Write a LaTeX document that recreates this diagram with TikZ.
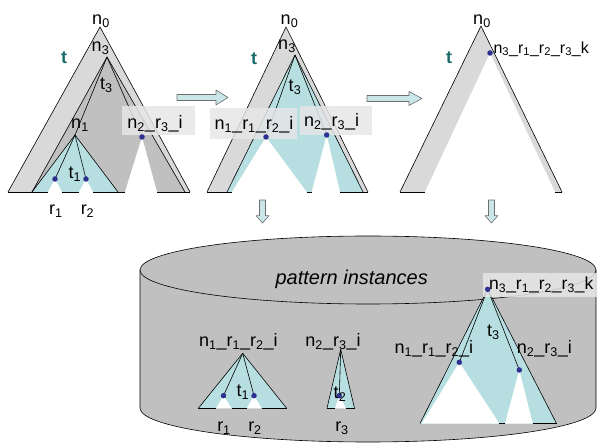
\documentclass[tikz,border=0pt]{standalone}
\usepackage{fontspec}
\setmainfont{Liberation Sans}
\definecolor{lgray}{HTML}{D9D9D9}
\definecolor{mgray}{HTML}{C0C0C0}
\definecolor{cyanf}{HTML}{B7DFE1}
\definecolor{dotc}{HTML}{2E3192}
\definecolor{tealt}{HTML}{1B6B6B}
\definecolor{boxc}{HTML}{E6E6E6}
\definecolor{arrf}{HTML}{C9E7E9}
\definecolor{arrd}{HTML}{6E6E6E}
\begin{document}
\begin{tikzpicture}[x=1pt,y=-1pt,line join=round,
  edge/.style={draw=black,line width=0.6pt},
  lbl/.style={font=\fontsize{18}{20}\selectfont,inner sep=0pt,anchor=base},
  tlbl/.style={font=\fontsize{18}{20}\selectfont\bfseries,text=tealt,inner sep=0pt,anchor=base},
  lblbox/.style={fill=boxc,fill opacity=0.85,draw=none},
  dotn/.style={circle,fill=dotc,inner sep=0pt,minimum size=5.5pt},
  arrowshape/.style={fill=arrf,draw=arrd,line width=0.6pt}]
\useasboundingbox (0,0) rectangle (597,443);

% ================= Tree 1 =================
\coordinate (a1) at (100,27);
\coordinate (t1n3) at (107,57);
\coordinate (t1n1) at (75,135);
\coordinate (t1r1) at (55,179);
\coordinate (t1r2) at (86,179);
\coordinate (t1n2) at (142,137);
\fill[lgray] (a1) -- (8,192) -- (190,192) -- cycle;
\fill[mgray] (t1n3) -- (32,192) -- (185,192) -- cycle;
\fill[cyanf] (t1n1) -- (32,192) -- (118,192) -- cycle;
\fill[white] (t1r1) -- (48,192) -- (62,192) -- cycle;
\fill[white] (t1r2) -- (79,192) -- (93,192) -- cycle;
\fill[white] (t1n2) -- (125,192) -- (157,192) -- cycle;
\draw[edge] (8,192) -- (a1) -- (190,192);
\draw[edge] (32,192) -- (t1n3) -- (185,192);
\draw[edge] (32,192) -- (t1n1) -- (118,192);
\draw[edge] (8,192) -- (48,192) (62,192) -- (79,192) (93,192) -- (125,192) (157,192) -- (190,192);
\draw[edge] (t1n3) -- (t1n1);
\draw[edge] (t1n1) -- (t1r1);
\draw[edge] (t1n1) -- (t1r2);
\draw[edge] (t1n3) -- (t1n2);
\fill[lblbox] (121.7,106) rectangle (195,135);
\node[dotn] (d1r1) at (t1r1) {};
\node[dotn] (d1r2) at (t1r2) {};
\node[dotn] (d1n2) at (t1n2) {};
\node[lbl] (l1n0) at (101,25) {n\textsubscript{0}};
\node[lbl] (l1n3) at (100.5,51.7) {n\textsubscript{3}};
\node[tlbl] (l1t) at (64,63.3) {t};
\node[lbl] (l1t3) at (106.3,90) {t\textsubscript{3}};
\node[lbl] (l1n1) at (80,128.3) {n\textsubscript{1}};
\node[lbl] (l1t1) at (75,178.3) {t\textsubscript{1}};
\node[lbl] (l1r1) at (56,215) {r\textsubscript{1}};
\node[lbl] (l1r2) at (87.5,215) {r\textsubscript{2}};
\node[lbl] (l1n2) at (155,128.3) {n\textsubscript{2}\_r\textsubscript{3}\_i};

% ================= Tree 2 =================
\coordinate (a2) at (286,27);
\coordinate (t2n3) at (295,55);
\coordinate (t2n1) at (266,137);
\coordinate (t2n2) at (326.7,135);
\fill[lgray] (a2) -- (207,192) -- (368,192) -- cycle;
\fill[cyanf] (t2n3) -- (227,192) -- (363,192) -- cycle;
\fill[white] (t2n1) -- (232,192) -- (306.7,192) -- cycle;
\fill[white] (t2n2) -- (311.7,192) -- (340,192) -- cycle;
\draw[edge] (207,192) -- (a2) -- (368,192);
\draw[edge] (227,192) -- (t2n3) -- (363,192);
\draw[edge] (207,192) -- (232,192) (306.7,192) -- (311.7,192) (340,192) -- (368,192);
\draw[edge] (t2n3) -- (t2n1);
\draw[edge] (t2n3) -- (t2n2);
\fill[lblbox] (210,108.3) rectangle (296.7,139.3);
\fill[lblbox] (300,106) rectangle (372.3,135);
\node[dotn] (d2n1) at (t2n1) {};
\node[dotn] (d2n2) at (t2n2) {};
\node[lbl] (l2n0) at (289.5,25) {n\textsubscript{0}};
\node[lbl] (l2n3) at (287,50) {n\textsubscript{3}};
\node[tlbl] (l2t) at (254,64.3) {t};
\node[lbl] (l2t3) at (295,91.7) {t\textsubscript{3}};
\node[lbl] (l2n1) at (254,130) {n\textsubscript{1}\_r\textsubscript{1}\_r\textsubscript{2}\_i};
\node[lbl] (l2n2) at (331.7,126.7) {n\textsubscript{2}\_r\textsubscript{3}\_i};

% ================= Tree 3 =================
\coordinate (a3) at (481,26);
\coordinate (t3n3) at (490,53);
\fill[lgray] (a3) -- (400,192) -- (562,192) -- cycle;
\fill[white] (t3n3) -- (425,192) -- (555,192) -- cycle;
\draw[edge] (400,192) -- (a3) -- (562,192);
\draw[edge] (400,192) -- (425,192) (555,192) -- (562,192);
\node[dotn] (d3n3) at (t3n3) {};
\node[lbl] (l3n0) at (482,25) {n\textsubscript{0}};
\node[tlbl] (l3t) at (449,63.3) {t};
\node[lbl,anchor=base west,font=\fontsize{16}{18}\selectfont] (l3n3) at (493.3,53.3) {n\textsubscript{3}\_r\textsubscript{1}\_r\textsubscript{2}\_r\textsubscript{3}\_k};

% ================= Arrows =================
\draw[arrowshape] (177,94.5) -- (216,94.5) -- (216,90) -- (228,97.5) -- (216,105) -- (216,100.5) -- (177,100.5) -- cycle;
\draw[arrowshape] (367,95.5) -- (409,95.5) -- (409,91.5) -- (422,98.5) -- (409,105.5) -- (409,101.5) -- (367,101.5) -- cycle;
\draw[arrowshape] (259.5,200) -- (265.5,200) -- (265.5,215.7) -- (269,215.7) -- (262.5,223) -- (256,215.7) -- (259.5,215.7) -- cycle;
\draw[arrowshape] (488.5,200) -- (494.5,200) -- (494.5,215.7) -- (498,215.7) -- (491.5,223) -- (485,215.7) -- (488.5,215.7) -- cycle;

% ================= Cylinder =================
\draw[edge,fill=mgray] (140,270) -- (140,408) arc[start angle=180,end angle=360,x radius=228pt,y radius=34pt] -- (596,270) -- cycle;
\draw[edge,fill=mgray] (368,270) ellipse[x radius=228pt,y radius=34pt];
\node[lbl,font=\fontsize{20}{22}\selectfont\itshape] (lpat) at (351.7,284.3) {pattern instances};

% small tree 1
\coordinate (b1) at (242.7,353.3);
\coordinate (b1r1) at (223.5,395.7);
\coordinate (b1r2) at (254,395.7);
\fill[cyanf] (b1) -- (198.3,408.3) -- (286.7,408.3) -- cycle;
\fill[white] (b1r1) -- (216,408.3) -- (231.5,408.3) -- cycle;
\fill[white] (b1r2) -- (246.7,408.3) -- (261.7,408.3) -- cycle;
\draw[edge] (198.3,408.3) -- (b1) -- (286.7,408.3);
\draw[edge] (198.3,408.3) -- (216,408.3) (231.5,408.3) -- (246.7,408.3) (261.7,408.3) -- (286.7,408.3);
\draw[edge] (b1) -- (b1r1);
\draw[edge] (b1) -- (b1r2);
\node[dotn] (db1r1) at (b1r1) {};
\node[dotn] (db1r2) at (b1r2) {};
\node[lbl] (lb1) at (238.3,346.7) {n\textsubscript{1}\_r\textsubscript{1}\_r\textsubscript{2}\_i};
\node[lbl] (lb1t) at (243,396.7) {t\textsubscript{1}};
\node[lbl] (lb1r1) at (224,431.7) {r\textsubscript{1}};
\node[lbl] (lb1r2) at (255,431.7) {r\textsubscript{2}};

% small tree 2
\coordinate (b2) at (340.7,349.3);
\coordinate (b2r3) at (339.3,395.7);
\fill[cyanf] (b2) -- (327,408.3) -- (354.5,408.3) -- cycle;
\fill[white] (b2r3) -- (335,408.3) -- (346,408.3) -- cycle;
\draw[edge] (327,408.3) -- (b2) -- (354.5,408.3);
\draw[edge] (327,408.3) -- (335,408.3) (346,408.3) -- (354.5,408.3);
\draw[edge] (b2) -- (b2r3);
\node[dotn] (db2r3) at (b2r3) {};
\node[lbl] (lb2) at (333,346.7) {n\textsubscript{2}\_r\textsubscript{3}\_i};
\node[lbl] (lb2t) at (340,398.3) {t\textsubscript{2}};
\node[lbl] (lb2r3) at (342,431.7) {r\textsubscript{3}};

% big tree
\coordinate (b3) at (487.7,289.3);
\coordinate (b3n1) at (459.3,362.3);
\coordinate (b3n2) at (519.3,370);
\fill[cyanf] (b3) -- (420,423.5) -- (556.5,423.5) -- cycle;
\fill[white] (b3n1) -- (421.7,423.5) -- (499.3,423.5) -- cycle;
\fill[white] (b3n2) -- (505,423.5) -- (532.7,423.5) -- cycle;
\draw[edge] (420,423.5) -- (b3) -- (556.5,423.5);
\draw[edge] (499.3,423.5) -- (505,423.5) (532.7,423.5) -- (556.5,423.5);
\draw[edge] (b3) -- (b3n1);
\draw[edge] (b3) -- (b3n2);
\fill[lblbox] (483.3,273.3) rectangle (597,296.7);
\node[dotn] (db3) at (b3) {};
\node[dotn] (db3n1) at (b3n1) {};
\node[dotn] (db3n2) at (b3n2) {};
\node[lbl,anchor=base west,font=\fontsize{17.5}{20}\selectfont] (lb3) at (489,290) {n\textsubscript{3}\_r\textsubscript{1}\_r\textsubscript{2}\_r\textsubscript{3}\_k};
\node[lbl] (lb3t) at (493.3,336.7) {t\textsubscript{3}};
\node[lbl] (lb3n1) at (433.8,353.3) {n\textsubscript{1}\_r\textsubscript{1}\_r\textsubscript{2}\_i};
\node[lbl] (lb3n2) at (544.3,353.3) {n\textsubscript{2}\_r\textsubscript{3}\_i};
\end{tikzpicture}
\end{document}
